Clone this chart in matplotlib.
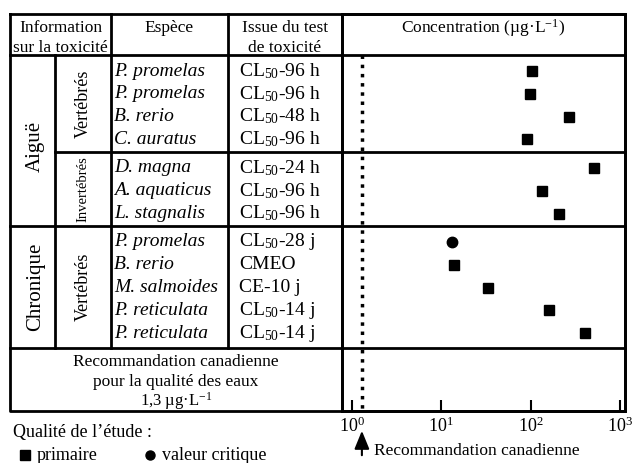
import matplotlib
matplotlib.use("Agg")
import matplotlib.pyplot as plt

plt.rcParams['font.family'] = 'Liberation Serif'
plt.rcParams['mathtext.fontset'] = 'custom'
plt.rcParams['mathtext.rm'] = 'Liberation Serif'
plt.rcParams['mathtext.it'] = 'Liberation Serif:italic'

# Données
especes = ["P. promelas", "P. promelas", "B. rerio", "C. auratus",
           "D. magna", "A. aquaticus", "L. stagnalis",
           "P. promelas", "B. rerio", "M. salmoides", "P. reticulata", "P. reticulata"]
issues = ["CL$_{50}$-96 h", "CL$_{50}$-96 h", "CL$_{50}$-48 h", "CL$_{50}$-96 h",
          "CL$_{50}$-24 h", "CL$_{50}$-96 h", "CL$_{50}$-96 h",
          "CL$_{50}$-28 j", "CMEO", "CE-10 j", "CL$_{50}$-14 j", "CL$_{50}$-14 j"]
concentrations = [104, 99, 267, 91, 508, 134, 210, 13.2, 14.1, 33, 162, 408]
qualite = ["primaire"] * 7 + ["critique"] + ["primaire"] * 4
groupes = ["Vertébrés", "Invertébrés", "Vertébrés"]
n_par_groupe = [4, 3, 5]
recommandation = 1.3

# mise en page (pixels)
W, H = 638, 463
x0, x1, x2, x3, x4, x5 = 10, 55, 111, 228, 342, 625
y_top, y_head, y_bot = 14, 55, 411
sections = [(55, 152), (152, 226), (226, 348)]
row_h = 22.8

fig = plt.figure(figsize=(W / 100, H / 100), dpi=100)
bg = fig.add_axes([0, 0, 1, 1])
bg.set_xlim(0, W)
bg.set_ylim(H, 0)
bg.axis('off')

lw = 2
kw = dict(color='black', lw=lw)
# cadre et lignes du tableau
bg.plot([x0, x5, x5, x0, x0], [y_top, y_top, y_bot, y_bot, y_top], **kw)
bg.plot([x0, x5], [y_head, y_head], **kw)
bg.plot([x1, x5], [152, 152], **kw)
bg.plot([x0, x5], [226, 226], **kw)
bg.plot([x0, x5], [348, 348], **kw)
bg.plot([x1, x1], [y_head, 348], **kw)
bg.plot([x2, x2], [y_top, 348], **kw)
bg.plot([x3, x3], [y_top, 348], **kw)
bg.plot([x4, x4], [y_top, y_bot], **kw)

fs = 12.5
# en-têtes
bg.text((x0 + x2) / 2, 28, "Information", ha='center', va='center', fontsize=fs)
bg.text((x0 + x2) / 2, 48, "sur la toxicité", ha='center', va='center', fontsize=fs)
bg.text((x2 + x3) / 2, 28, "Espèce", ha='center', va='center', fontsize=fs)
bg.text((x3 + x4) / 2, 28, "Issue du test", ha='center', va='center', fontsize=fs)
bg.text((x3 + x4) / 2, 48, "de toxicité", ha='center', va='center', fontsize=fs)
bg.text((x4 + x5) / 2, 28, r"Concentration (µg·L$^{-1}$)", ha='center', va='center', fontsize=fs)

# catégories
bg.text((x0 + x1) / 2 + 3, 146, "Aiguë", rotation=90, ha='center', va='center', fontsize=15)
bg.text((x0 + x1) / 2 + 3, 287, "Chronique", rotation=90, ha='center', va='center', fontsize=15)
tailles = [13, 10.5, 13]
for (ya, yb), g, t in zip(sections, groupes, tailles):
    bg.text((x1 + x2) / 2, (ya + yb) / 2, g, rotation=90, ha='center', va='center', fontsize=t)

# positions des lignes
rows_y = []
for (ya, yb), n in zip(sections, n_par_groupe):
    rows_y += [ya + 16 + i * row_h for i in range(n)]

for y, sp, iss in zip(rows_y, especes, issues):
    bg.text(x2 + 3, y, sp, style='italic', ha='left', va='center', fontsize=14)
    bg.text(x3 + 11, y, iss, ha='left', va='center', fontsize=14)

bg.text((x0 + x4) / 2, 362, "Recommandation canadienne", ha='center', va='center', fontsize=fs)
bg.text((x0 + x4) / 2, 382, "pour la qualité des eaux", ha='center', va='center', fontsize=fs)
bg.text((x0 + x4) / 2, 401, r"1,3 µg·L$^{-1}$", ha='center', va='center', fontsize=12)

# légende
bg.text(13, 433, "Qualité de l\u2019étude :", ha='left', va='center', fontsize=13)
bg.plot([25], [455], 's', color='black', ms=6.5)
bg.text(37, 455, "primaire", ha='left', va='center', fontsize=13)
bg.plot([150], [455], 'o', color='black', ms=6.5)
bg.text(162, 455, "valeur critique", ha='left', va='center', fontsize=13)
bg.text(374, 451, "Recommandation canadienne", ha='left', va='center', fontsize=fs)

# graphique
ax = fig.add_axes([x4 / W, (H - y_bot) / H, (x5 - x4) / W, (y_bot - y_top) / H])
ax.set_facecolor('none')
ax.set_xscale('log')
ax.set_xlim(0.779, 1137)
ax.set_ylim(y_bot, y_top)
for s in ax.spines.values():
    s.set_linewidth(lw)
ax.tick_params(axis='x', which='major', direction='in', length=8, width=1.5, labelsize=13, pad=4)
ax.tick_params(axis='x', which='minor', length=0)
ax.set_yticks([])
ax.set_xticks([1, 10, 100, 1000])

for c, y, q in zip(concentrations, rows_y, qualite):
    m = 'o' if q == "critique" else 's'
    ax.plot(c, y, m, color='black', ms=7.5)

ax.plot([recommandation, recommandation], [y_head, y_bot], ':', color='black', lw=2.5)
ax.annotate('', xy=(recommandation, 428), xytext=(recommandation, 458),
            arrowprops=dict(arrowstyle='-|>,head_length=1.1,head_width=0.45', color='black', lw=1.5),
            annotation_clip=False)

fig.savefig("out.png", dpi=100)
